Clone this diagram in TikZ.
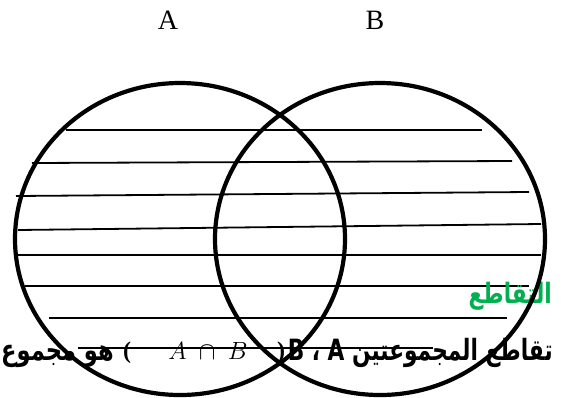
\documentclass[tikz,border=0pt]{standalone}
\usepackage{fontspec}
\setmainfont{Liberation Serif}
\newfontfamily\arabicfont[Script=Arabic]{DejaVu Sans}
\TeXXeTstate=1
\definecolor{kgreen}{RGB}{0,176,80}
\newcommand{\artall}[1]{\scalebox{1}[1.35]{#1}}
\begin{document}
\begin{tikzpicture}[x=1pt,y=-1pt,
  setline/.style={line width=4.2pt},
  hatch/.style={line width=1.8pt},
  lbl/.style={font=\fontsize{28}{30}\selectfont, inner sep=0pt, anchor=base},
  ar/.style={font=\arabicfont\bfseries\fontsize{21.7}{26}\selectfont, inner sep=0pt, anchor=base east},
  par/.style={font=\bfseries\fontsize{24}{26}\selectfont, inner sep=0pt, anchor=base}]
\useasboundingbox (0,0) rectangle (562,397);
\begin{scope}
\clip (0,0) rectangle (562,397);
% hatching
\draw[hatch] (66,130) -- (482,130);
\draw[hatch] (32,163) -- (512,161);
\draw[hatch] (16,196) -- (529,192);
\draw[hatch] (18,230) -- (541,224);
\draw[hatch] (18,255) -- (541,255);
\draw[hatch] (25,286) -- (529,286);
\draw[hatch] (49,318) -- (507,318);
\draw[hatch] (78,348) -- (433,348);
% texts
\node[ar, text=kgreen, font=\arabicfont\bfseries\fontsize{21.6}{26}\selectfont] (title) at (552,303) {\scalebox{1}[1.3]{\beginR التقاطع\endR}};
\node[ar] (def1) at (553,360) {\artall{\beginR تقاطع المجموعتين A ، B\endR}};
\node[par] (p1) at (281,358) {)};
\node[lbl] (ab) at (208,359) {$A\;\cap\;B$};
\node[par] (p2) at (127,358) {(};
\node[ar] (def2) at (114,360) {\scalebox{1.04}[1.35]{\beginR هو مجموع\endR}};
% sets
\draw[setline] (180,239) ellipse [x radius=165pt, y radius=156pt];
\draw[setline] (380,239) ellipse [x radius=165pt, y radius=156pt];
\end{scope}
\node[lbl] (la) at (168,29) {A};
\node[lbl] (lb) at (375,29) {B};
\end{tikzpicture}
\end{document}
